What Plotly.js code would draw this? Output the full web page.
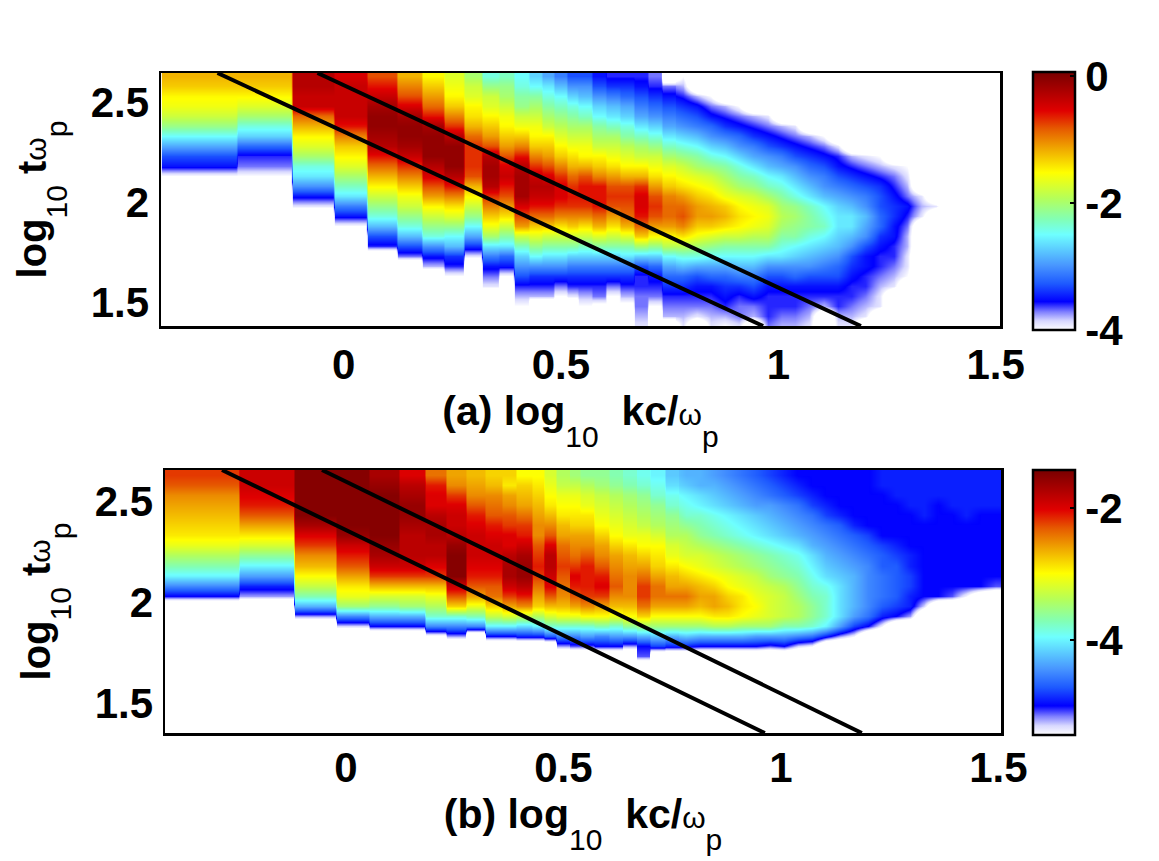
<!DOCTYPE html>
<html>
<head>
<meta charset="utf-8">
<script src="https://cdn.plot.ly/plotly-3.0.1.min.js"></script>
<style>
  html, body { margin: 0; padding: 0; background: #fff; overflow: hidden; }
</style>
</head>
<body>
<div id="chart" style="width:1159px;height:861px"></div>
<script>
// log10 kc/wp bin edges
const kEdges = [-0.418,-0.246,-0.119,-0.022,0.054,0.123,0.181,0.231,0.277,0.319,0.358,0.392,0.427,0.456,0.484,0.514,0.539,
  0.571,0.604,0.636,0.668,0.700,0.733,0.765,0.797,0.829,0.862,0.894,0.926,0.959,0.991,1.023,1.055,1.088,1.120,1.152,1.184,
  1.217,1.249,1.281,1.313,1.346,1.378,1.410,1.442,1.475,1.510];
// log10 t wp rows, top to bottom
const tRows = [2.63,2.58,2.53,2.48,2.43,2.38,2.33,2.28,2.23,2.18,2.13,2.08,2.03,1.98,1.93,1.88,1.83,1.78,1.73,1.68,1.63,1.58,1.53,1.48,1.43,1.38];

// one list per k bin, top to bottom, in tenths of -log10; rows left out at the bottom are empty
const specA = [
  [12,13,15,16,18,21,25,29,33,35,40],
  [12,13,15,17,20,24,27,32,36,37,40],
  [3,3,4,4,9,12,15,17,20,24,26,30,35,39],
  [5,4,4,4,4,6,10,13,15,17,20,23,26,31,35,40],
  [8,6,4,2,1,1,2,3,6,9,12,15,18,21,24,28,33,36],
  [12,10,8,5,2,1,1,2,4,7,10,13,16,18,21,24,28,33,37],
  [15,13,11,9,6,2,1,1,1,3,5,8,11,15,18,21,24,30,35,38],
  [17,16,15,13,10,7,3,1,1,1,3,6,10,14,17,21,25,28,34,36,40],
  [20,18,17,15,14,12,9,7,7,7,8,12,15,18,21,25,29,34,39],
  [24,21,18,17,15,13,11,8,3,2,2,3,7,10,13,16,20,26,31,35,37,39],
  [23,21,20,18,16,15,13,11,8,5,4,6,8,11,14,18,22,26,32,35,40],
  [25,24,22,21,18,16,13,10,6,3,2,2,2,5,8,11,18,23,27,30,33,36,38,40],
  [27,25,22,20,18,16,15,13,10,7,4,3,4,6,9,13,17,21,25,30,34,36,38],
  [29,26,24,22,20,18,15,13,11,8,5,3,4,6,9,13,18,22,26,30,34,36,38],
  [31,28,25,23,21,19,17,15,13,10,7,5,5,7,10,14,18,22,26,30,34,37,40],
  [33,30,27,24,22,20,18,16,14,12,9,7,6,7,10,13,18,22,27,31,34,36,39],
  [33,30,28,25,23,20,18,16,15,12,8,6,6,7,10,14,18,23,27,31,34,36,38,40],
  [35,33,30,27,25,22,20,18,15,13,10,6,6,6,9,12,17,22,27,31,34,36,37,41],
  [36,34,31,28,26,23,20,18,16,14,11,8,7,8,11,14,18,22,27,31,34,37,40,40],
  [36,34,32,29,27,24,22,19,17,15,12,8,7,8,9,12,17,22,26,31,34,36,38,41],
  [36,35,33,31,29,26,23,20,18,15,12,7,5,5,6,9,13,20,27,33,36,36,37,37,38,39],
  [37,36,34,32,30,27,24,21,18,16,14,11,8,7,8,11,15,21,27,32,35,36,37,40],
  [45,37,35,33,31,29,26,23,20,17,15,13,10,9,9,11,15,19,25,29,32,34,36,37,38],
  [40,38,36,34,32,30,27,24,21,18,16,14,11,9,8,10,14,19,24,28,32,34,36,37,38,39],
  [45,45,38,35,33,31,28,25,22,20,17,15,13,11,11,13,16,20,24,29,33,35,36,37,39],
  [45,45,40,37,35,32,30,27,24,21,18,16,14,12,11,13,17,21,25,29,32,35,36,37,38,39],
  [45,45,45,38,36,34,31,28,25,22,20,18,16,13,12,14,18,22,25,29,32,34,35,36,38,40],
  [45,45,45,40,37,35,32,30,27,24,22,20,17,15,14,15,18,22,25,28,31,34,36,37,37,39],
  [45,45,45,45,38,36,34,31,29,26,23,21,18,16,15,16,19,22,25,28,31,33,35,37,38],
  [45,45,45,45,39,37,35,33,30,28,25,23,20,17,16,17,19,22,26,30,33,35,36,36,36,37],
  [45,45,45,45,45,38,36,34,31,29,26,24,22,20,19,20,22,24,26,30,33,35,36,36,37,38],
  [45,45,45,45,45,39,37,35,33,30,28,26,24,21,20,21,22,25,27,30,32,35,36,36,37,38],
  [45,45,45,45,45,45,38,36,34,32,30,28,26,23,22,22,24,26,28,30,33,35,36,37,38,39],
  [45,45,45,45,45,45,40,37,35,33,31,30,28,25,24,23,25,27,29,31,33,35,36,38],
  [45,45,45,45,45,45,45,39,36,35,33,31,29,27,26,26,27,28,30,32,33,35,36,36,38,39],
  [45,45,45,45,45,45,45,45,38,36,34,32,30,28,26,26,28,30,33,34,35,36,36,37,38,39],
  [45,45,45,45,45,45,45,45,39,37,35,33,31,30,28,29,30,33,35,35,36,36,37,38,39],
  [45,45,45,45,45,45,45,45,40,38,36,34,33,33,32,32,34,35,36,36,37,38,39,39],
  [45,45,45,45,45,45,45,45,45,39,37,36,35,34,34,35,35,36,36,37,38,39],
  [45,45,45,45,45,45,45,45,45,40,39,38,37,35,36,37,38,38,39,39,40],
  [45,45,45,45,45,45,45,45,45,45,45,45,39,38,39],
  [45,45,45,45,45,45,45,45,45,45,45,45,45,39],
  [], [], [], []
];

const specB = [
  [22,23,25,26,27,28,29,31,34,37,40,45,50],
  [19,19,20,21,23,26,29,32,36,40,44,49,52],
  [15,15,15,15,15,17,20,22,25,27,30,33,37,43,52],
  [15,15,15,15,15,15,16,19,21,23,26,29,31,35,45,53],
  [17,16,15,15,15,15,15,16,17,19,22,27,32,36,43,50],
  [20,18,17,16,16,17,18,18,18,19,22,27,32,35,43,50],
  [24,21,20,20,18,17,17,18,18,20,22,27,31,34,38,45,55],
  [26,25,22,20,19,19,18,16,15,15,15,19,23,28,38,45,52],
  [27,26,25,23,21,20,19,19,19,20,21,23,26,31,37,45],
  [28,27,25,24,23,21,20,19,19,20,21,23,24,28,33,40,50],
  [28,29,26,25,23,22,20,20,18,17,17,19,22,26,32,40,50],
  [30,28,27,26,24,22,21,19,17,16,16,18,21,25,33,41,49],
  [30,29,28,27,26,25,25,23,22,21,22,24,26,28,34,40,49],
  [32,31,30,29,27,25,23,20,18,18,19,20,23,27,32,38,47],
  [34,33,31,30,29,27,26,24,23,22,23,24,25,27,31,38,45,52],
  [35,33,31,30,29,28,26,25,24,22,20,21,23,26,31,38,45,51],
  [36,34,32,31,29,28,26,25,23,21,21,21,22,25,30,38,44,51],
  [36,35,33,32,31,30,28,26,25,23,21,20,22,26,30,37,45,50],
  [37,36,34,33,32,31,30,28,26,25,24,23,25,27,31,38,44,50],
  [38,37,35,34,33,32,31,29,27,26,25,25,25,27,30,36,44,52],
  [39,38,36,35,34,33,31,30,28,26,24,22,22,24,28,35,43,50,51],
  [40,39,38,36,35,34,32,30,29,28,26,24,24,26,30,35,42,48],
  [42,41,39,38,36,35,34,32,31,29,27,26,24,26,30,35,43,49],
  [43,42,40,39,38,36,34,33,32,30,28,26,24,26,30,35,42,49],
  [43,43,41,40,38,37,36,34,32,31,29,27,26,27,30,35,43,50],
  [44,43,42,41,39,38,37,35,33,32,30,28,26,26,29,34,43,50],
  [45,44,43,42,40,39,38,36,34,33,31,30,28,27,29,34,43,50],
  [46,45,44,43,41,40,39,37,35,34,32,31,29,29,30,35,43,50],
  [47,46,45,44,42,41,40,38,36,35,33,32,31,30,31,35,44,50],
  [48,47,46,44,43,42,41,39,37,36,35,33,32,32,32,35,44,51],
  [49,48,47,45,44,43,42,40,38,37,36,34,33,33,33,37,44,50],
  [50,49,48,46,45,44,43,41,39,38,37,36,35,34,34,37,45,53],
  [50,50,49,48,46,45,44,43,41,40,39,38,37,36,36,38,46,54],
  [50,50,50,49,48,46,45,44,43,42,41,39,38,38,38,40,49],
  [50,50,50,50,49,47,46,45,44,43,42,41,41,41,41,44,52],
  [50,50,50,50,50,49,47,46,45,44,43,43,43,43,44,48,54],
  [50,50,50,50,50,50,48,47,46,45,45,45,45,45,46,50],
  [49,49,50,50,50,50,50,48,47,47,46,46,46,47,49,54],
  [49,49,49,50,50,50,50,49,48,47,47,47,47,48,50],
  [49,49,49,49,50,50,50,50,49,49,48,48,49,49,52],
  [49,49,49,49,49,50,50,50,50,50,50,50,50,53],
  [49,49,49,50,50,50,50,50,50,50,50,50,50],
  [49,49,49,49,50,50,50,50,50,50,50,50,51],
  [49,49,49,49,49,50,50,50,50,50,50,50,54],
  [49,49,49,49,50,50,50,50,50,50,50,50,58],
  [49,49,49,49,50,50,50,50,50,50,50,51]
];

// the two black reference lines
const lineLowK = [-0.290, 0.965];
const lineHighK = [-0.060, 1.190];
const lineTopA = [2.645, 1.38];
const lineLowKB = [-0.285, 0.963];
const lineHighKB = [-0.055, 1.186];
const lineTopB = [2.653, 1.351];

const kTicks = [0, 0.5, 1, 1.5];
const kTickText = ['0', '0.5', '1', '1.5'];
const tTicks = [1.5, 2, 2.5];
const tTickText = ['1.5', '2', '2.5'];

const jetWhite = [
  [0, '#ffffff'], [0.035, '#d8d8ff'], [0.07, '#8080ff'], [0.11, '#0000ff'], [0.18, '#1e5aff'], [0.25, '#4896ff'],
  [0.37, '#6effff'], [0.43, '#82ffb4'], [0.51, '#b4ff5a'], [0.61, '#ffff00'], [0.70, '#f0aa00'], [0.78, '#e65a00'],
  [0.85, '#e00000'], [1, '#780000']
];

const FONT = '"Liberation Sans", Arial, sans-serif';
const thin = s => '<span style="font-weight:normal;font-size:30px">' + s + '</span>';
// subscripts sit far below the baseline in the original, so nest them
const low = s => '<sub><sub><sub><sub>' + thin(s) + '</sub></sub></sub></sub>';
const OMEGA = thin('ω');

// The wide bins on the left keep hard edges: each is written three times so the
// smoothed heatmap stays sharp across them. The narrow bins on the right just blend.
const sharpBins = 23;
const gap = 0.002;
const xBounds = [];
kEdges.slice(0, -1).forEach((e, i) => {
  if (i < sharpBins) xBounds.push(e, e + gap, kEdges[i + 1] - gap);
  else xBounds.push(e);
});
xBounds.push(kEdges[kEdges.length - 1]);

function buildZ(spec, empty) {
  return tRows.map((_, r) => {
    const row = [];
    spec.forEach((col, i) => {
      const v = -(r < col.length ? col[r] : empty) / 10;
      if (i < sharpBins) row.push(v, v, v);
      else row.push(v);
    });
    return row;
  }).reverse();
}
const yAsc = tRows.slice().reverse();

function heat(spec, empty, zmin, zmax, xa, ya, cbY, cbLen, vals, text) {
  return {
    type: 'heatmap', x: xBounds, y: yAsc, z: buildZ(spec, empty), zsmooth: 'best',
    zmin: zmin, zmax: zmax, colorscale: jetWhite, xaxis: xa, yaxis: ya, hoverinfo: 'skip',
    colorbar: {
      x: 1033 / 1159, xanchor: 'left', xpad: 0, ypad: 0, y: cbY, yanchor: 'middle',
      thickness: 42, thicknessmode: 'pixels', len: cbLen, lenmode: 'pixels',
      outlinewidth: 2.5, outlinecolor: '#000', ticks: 'inside', ticklen: 6, tickwidth: 2, tickcolor: '#000',
      tickmode: 'array', tickvals: vals, ticktext: text,
      tickfont: { family: FONT, size: 42, color: '#000', weight: 'bold' }
    }
  };
}
function line(k, t, xa, ya) {
  return { type: 'scatter', mode: 'lines', x: k, y: t, xaxis: xa, yaxis: ya, hoverinfo: 'skip',
    showlegend: false, line: { color: '#000', width: 4 } };
}

const traces = [
  heat(specA, 45, -4, 0.06, 'x', 'y', 1 - 201 / 861, 258, [0, -2, -4], ['0', '-2', '-4']),
  line(lineLowK, lineTopA, 'x', 'y'),
  line(lineHighK, lineTopA, 'x', 'y'),
  heat(specB, 60, -5.44, -1.42, 'x2', 'y2', 1 - 602.5 / 861, 265, [-2, -4], ['-2', '-4']),
  line(lineLowKB, lineTopB, 'x2', 'y2'),
  line(lineHighKB, lineTopB, 'x2', 'y2')
];

function xAxis(anchor, domain, range, title, labelShift) {
  return {
    anchor: anchor, domain: domain, range: range, showgrid: false, zeroline: false,
    showline: true, mirror: true, linecolor: '#000', linewidth: 2.5,
    ticks: '', ticklabelstandoff: labelShift, tickmode: 'array', tickvals: kTicks, ticktext: kTickText,
    tickfont: { family: FONT, size: 42, color: '#000', weight: 'bold' },
    title: { text: title, standoff: 9, font: { family: FONT, size: 41, color: '#000', weight: 'bold' } }
  };
}
function yAxis(anchor, domain, range) {
  return {
    anchor: anchor, domain: domain, range: range, showgrid: false, zeroline: false,
    showline: true, mirror: true, linecolor: '#000', linewidth: 2.5,
    ticks: 'outside', ticklen: 1, tickcolor: 'rgba(0,0,0,0)', tickmode: 'array', tickvals: tTicks, ticktext: tTickText,
    tickfont: { family: FONT, size: 42, color: '#000', weight: 'bold' },
    title: { text: 'log' + low('10') + ' t' + OMEGA + low('p'), standoff: 32, font: { family: FONT, size: 40, color: '#000', weight: 'bold' } }
  };
}

const layout = {
  width: 1159, height: 861, margin: { l: 0, r: 0, t: 0, b: 0 },
  paper_bgcolor: '#fff', plot_bgcolor: '#fff', showlegend: false,
  xaxis: xAxis('y', [161 / 1159, 1000 / 1159], [-0.42, 1.51], '(a) log' + low('10') + '&nbsp; kc/' + OMEGA + low('p'), 0),
  yaxis: yAxis('x', [1 - 326 / 861, 1 - 73 / 861], [1.38, 2.645]),
  xaxis2: xAxis('y2', [165 / 1159, 1001 / 1159], [-0.416, 1.506], '(b) log' + low('10') + '&nbsp; kc/' + OMEGA + low('p'), -4),
  yaxis2: yAxis('x2', [1 - 733 / 861, 1 - 470 / 861], [1.351, 2.653])
};

Plotly.newPlot('chart', traces, layout, { displayModeBar: false, staticPlot: true });
</script>
</body>
</html>
